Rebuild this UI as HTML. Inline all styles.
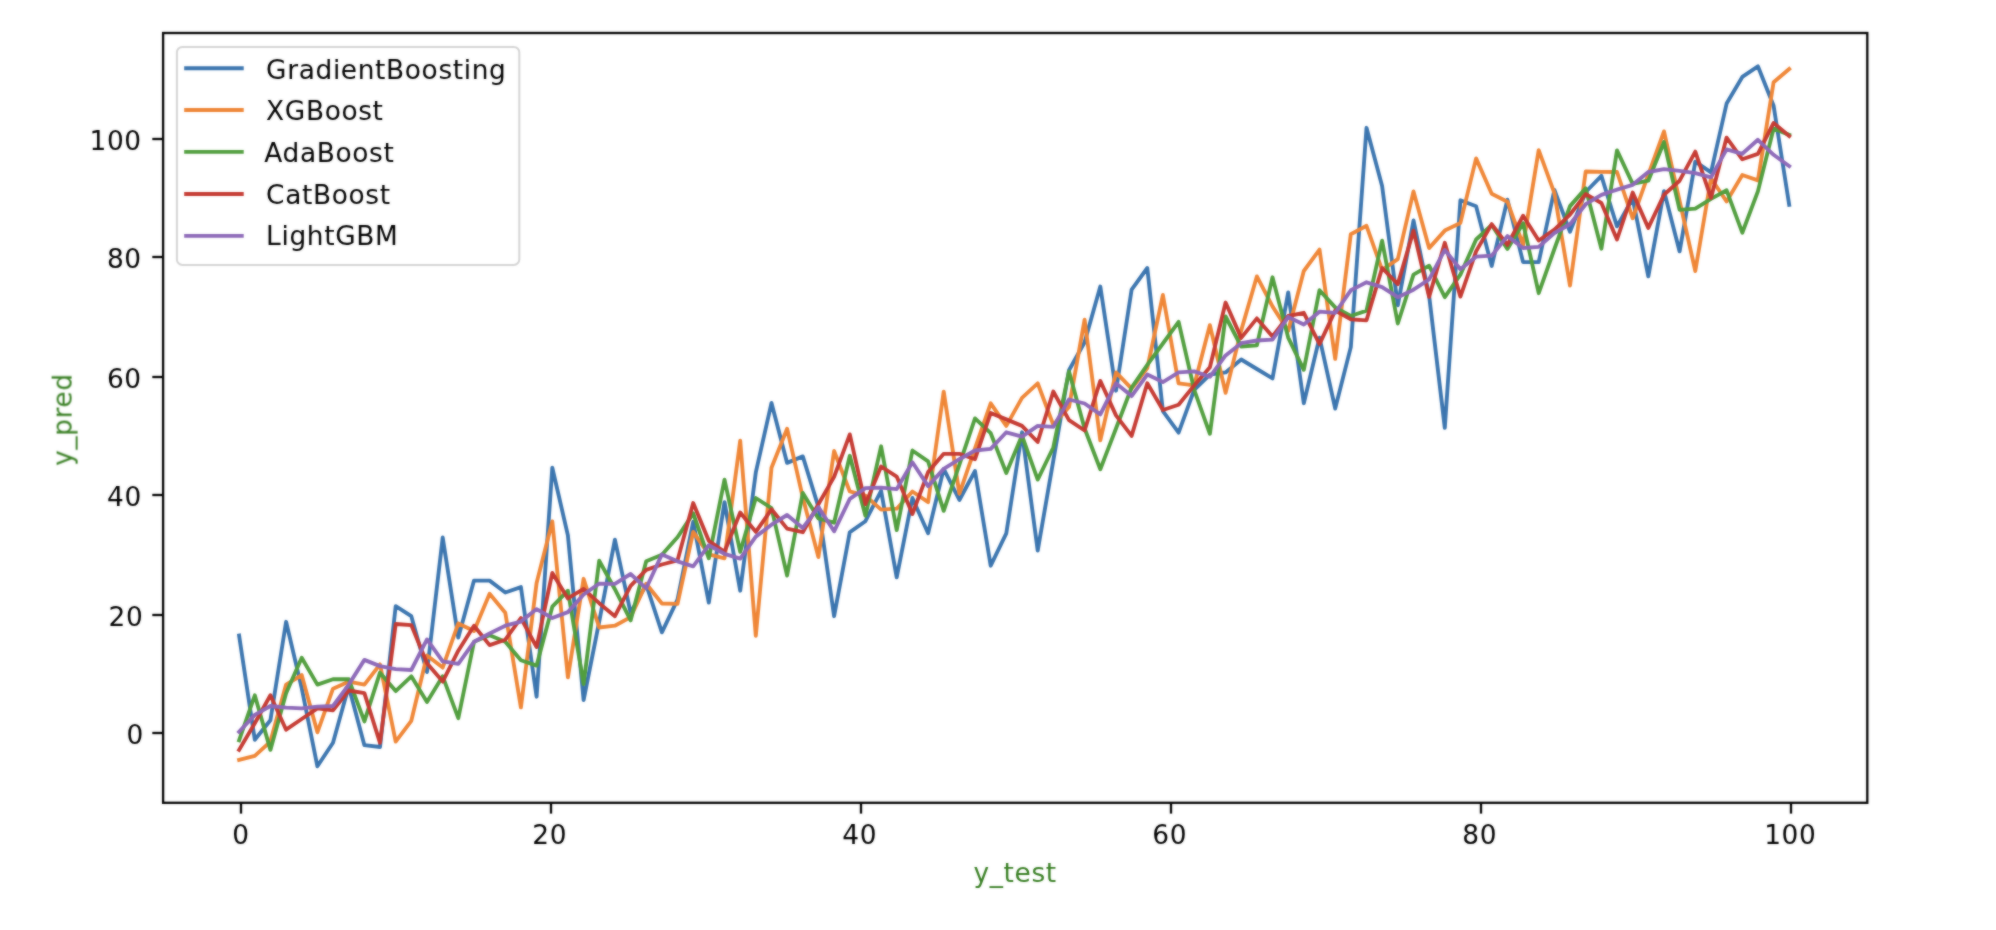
<!DOCTYPE html>
<html lang="en"><head><meta charset="utf-8"><title>y_test vs y_pred</title>
<style>
html,body{margin:0;padding:0;background:#fff;}
body{width:1996px;height:930px;overflow:hidden;}
svg{display:block;}
text{font-family:"DejaVu Sans","Liberation Sans",sans-serif;font-size:26.4px;fill:#000;letter-spacing:0.64px;}
.lbl{fill:#377e22;}
.ln{fill:none;stroke-width:3.85;stroke-linejoin:round;stroke-linecap:square;}
.ax{stroke:#000;stroke-width:2.3;fill:none;}
</style></head><body>
<svg width="1996" height="930" viewBox="0 0 1996 930">
<rect x="0" y="0" width="1996" height="930" fill="#fff"/>
<defs><clipPath id="c"><rect x="163.1" y="33.0" width="1704.2" height="769.8"/></clipPath><filter id="b" x="-5%" y="-5%" width="110%" height="110%" color-interpolation-filters="sRGB"><feGaussianBlur in="SourceGraphic" stdDeviation="0.9" result="bl"/><feComposite in="bl" in2="SourceGraphic" operator="arithmetic" k1="0" k2="0.55" k3="0.45" k4="0"/></filter></defs>
<g filter="url(#b)">
<g clip-path="url(#c)">
<polyline class="ln" stroke="#3b75af" points="239.1,635.5 254.8,739.8 270.4,720.2 286.1,621.8 301.7,688.1 317.4,766.3 333.0,742.7 348.7,686.4 364.4,745.2 380.0,747.0 395.7,606.1 411.3,616.2 427.0,672.1 442.7,537.5 458.3,637.6 474.0,580.6 489.6,580.6 505.3,592.5 520.9,587.1 536.6,696.7 552.3,467.7 567.9,535.4 583.6,700.0 599.2,621.6 614.9,539.6 630.6,612.7 646.2,584.7 661.9,632.3 677.5,599.6 693.2,521.8 708.8,602.6 724.5,502.2 740.2,590.7 755.8,472.4 771.5,402.9 787.1,462.9 802.8,456.4 818.4,506.9 834.1,616.2 849.8,532.2 865.4,521.2 881.1,490.9 896.7,577.4 912.4,498.0 928.1,533.3 943.7,468.9 959.4,500.0 975.0,471.0 990.7,565.7 1006.3,533.3 1022.0,432.3 1037.7,550.6 1053.3,460.6 1069.0,370.2 1084.6,342.3 1100.3,286.5 1116.0,390.7 1131.6,289.7 1147.3,268.0 1162.9,411.2 1178.6,432.6 1194.2,389.8 1209.9,374.6 1225.6,372.4 1241.2,359.5 1256.9,369.0 1272.5,378.4 1288.2,292.4 1303.8,403.2 1319.5,337.6 1335.2,408.5 1350.8,347.1 1366.5,127.8 1382.1,186.0 1397.8,305.3 1413.5,220.5 1429.1,295.4 1444.8,427.9 1460.4,200.3 1476.1,206.2 1491.7,266.0 1507.4,199.7 1523.1,262.1 1538.7,262.1 1554.4,189.9 1570.0,231.8 1585.7,192.0 1601.4,175.9 1617.0,226.4 1632.7,198.5 1648.3,276.4 1664.0,191.1 1679.6,251.4 1695.3,161.7 1711.0,172.4 1726.6,103.6 1742.3,76.9 1757.9,66.3 1773.6,105.8 1789.2,204.9"/>
<polyline class="ln" stroke="#ef8636" points="239.1,759.9 254.8,755.9 270.4,741.6 286.1,684.6 301.7,675.1 317.4,732.3 333.0,688.7 348.7,681.6 364.4,684.6 380.0,664.4 395.7,741.6 411.3,720.8 427.0,655.5 442.7,667.6 458.3,623.4 474.0,631.1 489.6,593.7 505.3,612.7 520.9,707.4 536.6,583.0 552.3,521.4 567.9,677.4 583.6,578.8 599.2,627.5 614.9,625.7 630.6,617.1 646.2,583.8 661.9,603.5 677.5,603.8 693.2,531.9 708.8,554.4 724.5,558.3 740.2,440.7 755.8,635.8 771.5,467.7 787.1,428.8 802.8,497.4 818.4,557.1 834.1,451.0 849.8,491.5 865.4,495.6 881.1,509.6 896.7,508.7 912.4,491.5 928.1,502.2 943.7,391.6 959.4,493.6 975.0,448.4 990.7,403.3 1006.3,425.9 1022.0,397.9 1037.7,383.3 1053.3,424.9 1069.0,407.1 1084.6,319.7 1100.3,440.4 1116.0,372.4 1131.6,388.7 1147.3,368.2 1162.9,295.0 1178.6,383.3 1194.2,385.4 1209.9,325.1 1225.6,392.8 1241.2,330.4 1256.9,276.4 1272.5,306.4 1288.2,331.0 1303.8,271.0 1319.5,249.6 1335.2,358.9 1350.8,234.2 1366.5,225.8 1382.1,269.8 1397.8,259.1 1413.5,191.4 1429.1,248.1 1444.8,230.6 1460.4,222.9 1476.1,158.4 1491.7,193.8 1507.4,201.7 1523.1,244.9 1538.7,150.1 1554.4,193.2 1570.0,285.6 1585.7,171.5 1601.4,171.8 1617.0,172.0 1632.7,218.3 1648.3,174.7 1664.0,131.4 1679.6,200.9 1695.3,271.0 1711.0,178.3 1726.6,201.5 1742.3,175.0 1757.9,180.4 1773.6,82.3 1789.2,69.0"/>
<polyline class="ln" stroke="#519e3e" points="239.1,740.4 254.8,695.3 270.4,749.9 286.1,693.2 301.7,657.8 317.4,684.6 333.0,679.2 348.7,679.2 364.4,721.4 380.0,672.7 395.7,691.1 411.3,676.3 427.0,702.1 442.7,676.3 458.3,718.2 474.0,641.8 489.6,635.3 505.3,641.8 520.9,660.2 536.6,665.6 552.3,606.7 567.9,590.7 583.6,684.0 599.2,560.7 614.9,589.2 630.6,620.4 646.2,561.2 661.9,554.7 677.5,537.2 693.2,513.4 708.8,558.3 724.5,479.6 740.2,551.8 755.8,498.0 771.5,508.1 787.1,575.5 802.8,492.9 818.4,518.5 834.1,522.7 849.8,455.8 865.4,515.8 881.1,446.3 896.7,530.1 912.4,450.5 928.1,461.3 943.7,510.8 959.4,464.7 975.0,418.4 990.7,433.2 1006.3,473.0 1022.0,435.6 1037.7,479.6 1053.3,447.5 1069.0,371.4 1084.6,428.5 1100.3,469.2 1116.0,428.5 1131.6,387.5 1147.3,364.9 1162.9,343.5 1178.6,321.9 1194.2,389.8 1209.9,433.8 1225.6,316.5 1241.2,346.5 1256.9,345.3 1272.5,277.3 1288.2,337.6 1303.8,369.8 1319.5,290.2 1335.2,307.4 1350.8,316.0 1366.5,310.6 1382.1,240.7 1397.8,323.5 1413.5,274.6 1429.1,265.7 1444.8,297.2 1460.4,274.6 1476.1,239.5 1491.7,225.0 1507.4,249.0 1523.1,223.2 1538.7,293.2 1554.4,249.0 1570.0,206.1 1585.7,188.4 1601.4,248.7 1617.0,150.4 1632.7,183.9 1648.3,180.7 1664.0,142.1 1679.6,209.8 1695.3,208.6 1711.0,198.9 1726.6,190.3 1742.3,232.7 1757.9,191.4 1773.6,128.5 1789.2,134.9"/>
<polyline class="ln" stroke="#c53a32" points="239.1,749.9 254.8,723.2 270.4,695.3 286.1,729.7 301.7,719.0 317.4,708.3 333.0,710.4 348.7,690.5 364.4,693.2 380.0,742.8 395.7,624.0 411.3,625.1 427.0,663.2 442.7,681.6 458.3,650.7 474.0,625.7 489.6,645.1 505.3,639.7 520.9,618.0 536.6,647.1 552.3,572.9 567.9,598.4 583.6,588.9 599.2,603.2 614.9,616.2 630.6,585.9 646.2,569.9 661.9,564.5 677.5,560.4 693.2,503.0 708.8,540.8 724.5,551.8 740.2,512.5 755.8,531.9 771.5,509.3 787.1,528.6 802.8,532.2 818.4,504.2 834.1,476.9 849.8,434.4 865.4,504.2 881.1,466.5 896.7,476.6 912.4,514.0 928.1,472.1 943.7,453.8 959.4,453.8 975.0,459.2 990.7,413.0 1006.3,419.4 1022.0,425.9 1037.7,442.0 1053.3,391.5 1069.0,420.2 1084.6,430.5 1100.3,380.9 1116.0,415.4 1131.6,435.9 1147.3,383.3 1162.9,410.0 1178.6,404.7 1194.2,385.4 1209.9,367.3 1225.6,302.5 1241.2,337.9 1256.9,318.4 1272.5,336.4 1288.2,316.0 1303.8,312.8 1319.5,344.1 1335.2,310.6 1350.8,319.3 1366.5,320.3 1382.1,268.0 1397.8,284.1 1413.5,230.6 1429.1,296.9 1444.8,242.8 1460.4,296.6 1476.1,251.4 1491.7,224.1 1507.4,244.9 1523.1,215.7 1538.7,240.5 1554.4,229.7 1570.0,214.6 1585.7,194.1 1601.4,203.0 1617.0,239.5 1632.7,192.6 1648.3,227.9 1664.0,194.7 1679.6,180.7 1695.3,151.6 1711.0,197.9 1726.6,137.6 1742.3,159.3 1757.9,153.9 1773.6,122.9 1789.2,136.1"/>
<polyline class="ln" stroke="#8d69b8" points="239.1,731.9 254.8,714.9 270.4,706.0 286.1,707.7 301.7,708.3 317.4,706.6 333.0,706.0 348.7,684.6 364.4,659.9 380.0,666.1 395.7,669.1 411.3,670.0 427.0,639.4 442.7,661.4 458.3,663.8 474.0,641.8 489.6,633.5 505.3,625.7 520.9,621.6 536.6,609.1 552.3,618.0 567.9,612.1 583.6,594.5 599.2,583.6 614.9,583.8 630.6,574.0 646.2,588.3 661.9,554.4 677.5,561.3 693.2,566.3 708.8,545.2 724.5,553.8 740.2,558.6 755.8,536.6 771.5,524.7 787.1,515.0 802.8,528.0 818.4,507.1 834.1,531.3 849.8,498.9 865.4,488.2 881.1,487.6 896.7,489.1 912.4,462.3 928.1,486.1 943.7,468.9 959.4,459.2 975.0,450.5 990.7,448.9 1006.3,432.3 1022.0,436.6 1037.7,425.9 1053.3,426.9 1069.0,399.5 1084.6,403.5 1100.3,414.4 1116.0,383.3 1131.6,396.1 1147.3,374.6 1162.9,382.1 1178.6,372.4 1194.2,371.4 1209.9,376.8 1225.6,355.4 1241.2,343.2 1256.9,340.5 1272.5,339.7 1288.2,317.1 1303.8,324.5 1319.5,311.7 1335.2,312.8 1350.8,290.3 1366.5,282.3 1382.1,287.1 1397.8,297.2 1413.5,289.7 1429.1,279.4 1444.8,249.9 1460.4,269.2 1476.1,256.7 1491.7,255.7 1507.4,236.1 1523.1,248.0 1538.7,246.9 1554.4,233.0 1570.0,224.3 1585.7,204.2 1601.4,194.9 1617.0,189.6 1632.7,184.8 1648.3,172.0 1664.0,169.2 1679.6,170.9 1695.3,173.1 1711.0,177.4 1726.6,149.4 1742.3,153.8 1757.9,139.8 1773.6,154.8 1789.2,166.1"/>
</g>
<rect class="ax" x="163.1" y="33.0" width="1704.2" height="769.8"/>
<line class="ax" x1="241.0" y1="802.8" x2="241.0" y2="813.6"/>
<text x="241.0" y="843.6" text-anchor="middle">0</text>
<line class="ax" x1="551.0" y1="802.8" x2="551.0" y2="813.6"/>
<text x="549.8" y="843.6" text-anchor="middle">20</text>
<line class="ax" x1="861.0" y1="802.8" x2="861.0" y2="813.6"/>
<text x="859.8" y="843.6" text-anchor="middle">40</text>
<line class="ax" x1="1171.0" y1="802.8" x2="1171.0" y2="813.6"/>
<text x="1169.8" y="843.6" text-anchor="middle">60</text>
<line class="ax" x1="1481.0" y1="802.8" x2="1481.0" y2="813.6"/>
<text x="1479.8" y="843.6" text-anchor="middle">80</text>
<line class="ax" x1="1791.0" y1="802.8" x2="1791.0" y2="813.6"/>
<text x="1790.3" y="843.6" text-anchor="middle">100</text>
<line class="ax" x1="163.1" y1="733.0" x2="152.3" y2="733.0"/>
<text x="143.9" y="743.6" text-anchor="end">0</text>
<line class="ax" x1="163.1" y1="615.0" x2="152.3" y2="615.0"/>
<text x="143.4" y="625.6" text-anchor="end">20</text>
<line class="ax" x1="163.1" y1="495.0" x2="152.3" y2="495.0"/>
<text x="141.9" y="505.6" text-anchor="end">40</text>
<line class="ax" x1="163.1" y1="377.0" x2="152.3" y2="377.0"/>
<text x="141.8" y="387.6" text-anchor="end">60</text>
<line class="ax" x1="163.1" y1="257.0" x2="152.3" y2="257.0"/>
<text x="141.8" y="267.6" text-anchor="end">80</text>
<line class="ax" x1="163.1" y1="139.0" x2="152.3" y2="139.0"/>
<text x="141.8" y="149.6" text-anchor="end">100</text>
<text class="lbl" x="1015.2" y="881.6" text-anchor="middle">y_test</text>
<text class="lbl" transform="translate(71.6,419.6) rotate(-90)" text-anchor="middle">y_pred</text>
<rect x="176.9" y="46.9" width="342.4" height="218.0" rx="5.5" ry="5.5" fill="#fff" fill-opacity="0.8" stroke="#d4d4d4" stroke-width="2"/>
<line class="ln" stroke="#3b75af" x1="186.1" y1="68.2" x2="241.8" y2="68.2"/>
<text x="266.1" y="79.4">GradientBoosting</text>
<line class="ln" stroke="#ef8636" x1="186.1" y1="110.0" x2="241.8" y2="110.0"/>
<text x="266.1" y="120.1">XGBoost</text>
<line class="ln" stroke="#519e3e" x1="186.1" y1="151.9" x2="241.8" y2="151.9"/>
<text x="264.3" y="162.0">AdaBoost</text>
<line class="ln" stroke="#c53a32" x1="186.1" y1="194.0" x2="241.8" y2="194.0"/>
<text x="266.1" y="203.5">CatBoost</text>
<line class="ln" stroke="#8d69b8" x1="186.1" y1="235.9" x2="241.8" y2="235.9"/>
<text x="266.1" y="245.2">LightGBM</text>
</g></svg></body></html>
